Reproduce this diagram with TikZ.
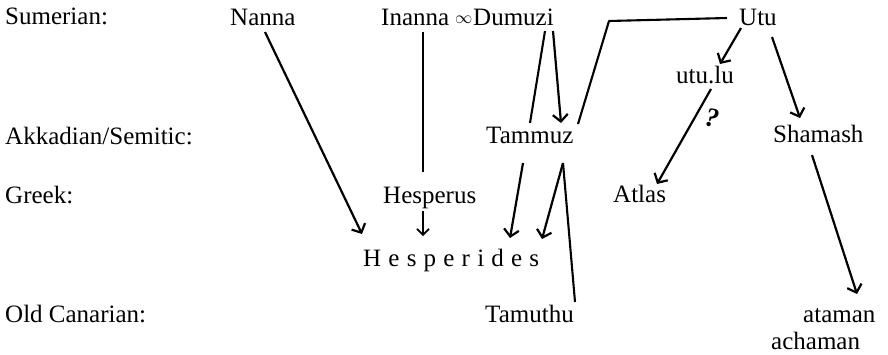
\documentclass[tikz,border=0pt]{standalone}
\usepackage{fontspec}
\setmainfont{Liberation Serif}
\usetikzlibrary{arrows.meta}
\begin{document}
\begin{tikzpicture}[x=1pt,y=-1pt,
  lbl/.style={anchor=base west,inner sep=0pt,font=\fontsize{25}{30}\selectfont},
  ln/.style={line width=2.1pt},
  thin/.style={line width=1.6pt},
  arr/.style={line width=2.2pt,-{Straight Barb[length=7pt,width=15pt,line width=2.2pt]}}]
\useasboundingbox (0,0) rectangle (888,354);
% row labels
\node[lbl] (sum) at (5,24) {Sumerian:};
\node[lbl] (akk) at (5,144) {Akkadian/Semitic:};
\node[lbl] (gre) at (5,203) {Greek:};
\node[lbl] (old) at (5,322) {Old Canarian:};
% names
\node[lbl] (nanna) at (230,25) {Nanna};
\node[lbl] (inanna) at (381,25) {Inanna};
\node[anchor=base west,inner sep=0pt,font=\fontsize{16}{20}\selectfont] (inf) at (455,23) {$\infty$};
\node[lbl] (dumuzi) at (473,25) {Dumuzi};
\node[lbl] (utu) at (739,25) {Utu};
\node[lbl] (utulu) at (676,83) {utu.lu};
\node[lbl] (tammuz) at (486,143) {Tammuz};
\node[lbl] (shamash) at (773,142) {Shamash};
\node[lbl] (hesperus) at (383,203) {Hesperus};
\node[lbl] (atlas) at (613,202) {Atlas};
\node[lbl] (hesperides) at (363,266) {\makebox[176pt][l]{H\hfill e\hfill s\hfill p\hfill e\hfill r\hfill i\hfill d\hfill e\hfill s}};
\node[lbl] (tamuthu) at (485,322) {Tamuthu};
\node[lbl] (ataman) at (803,322) {ataman};
\node[lbl] (achaman) at (771,349) {achaman};
\node[inner sep=0pt,font=\fontsize{27}{30}\selectfont\bfseries\itshape,rotate=-10] (q) at (712,118) {?};
% connector end points
\coordinate (nS) at (265,32);
\coordinate (nE) at (362,234);
\coordinate (iS) at (423,32);
\coordinate (iE) at (423,172);
\coordinate (hS) at (423,211);
\coordinate (hE) at (423,236);
\coordinate (d1S) at (545,31);
\coordinate (d1E) at (530,123);
\coordinate (d2S) at (553,31);
\coordinate (d2E) at (561,123);
\coordinate (tS) at (578,124);
\coordinate (corner) at (609,21);
\coordinate (uW) at (727,18);
\coordinate (u1S) at (741,28);
\coordinate (u1E) at (720,64);
\coordinate (u2S) at (772,37);
\coordinate (u2E) at (800,118);
\coordinate (ulS) at (711,89);
\coordinate (ulE) at (657,184);
\coordinate (t1S) at (523,163);
\coordinate (t1E) at (510,238);
\coordinate (tA) at (563,163);
\coordinate (t2E) at (542,239);
\coordinate (t3E) at (575,302);
\coordinate (sS) at (812,155);
\coordinate (sE) at (857,294);
% connectors
\draw[arr] (nS) -- (nE);
\draw[thin] (iS) -- (iE);
\draw[thin,-{Straight Barb[length=6pt,width=12pt,line width=1.7pt]}] (hS) -- (hE);
\draw[ln] (d1S) -- (d1E);
\draw[arr] (d2S) -- (d2E);
\draw[ln,line join=round] (tS) -- (corner) -- (uW);
\draw[arr] (u1S) -- (u1E);
\draw[arr] (u2S) -- (u2E);
\draw[arr] (ulS) -- (ulE);
\draw[arr] (t1S) -- (t1E);
\draw[arr] (tA) -- (t2E);
\draw[ln] (tA) -- (t3E);
\draw[arr] (sS) -- (sE);
\end{tikzpicture}
\end{document}
